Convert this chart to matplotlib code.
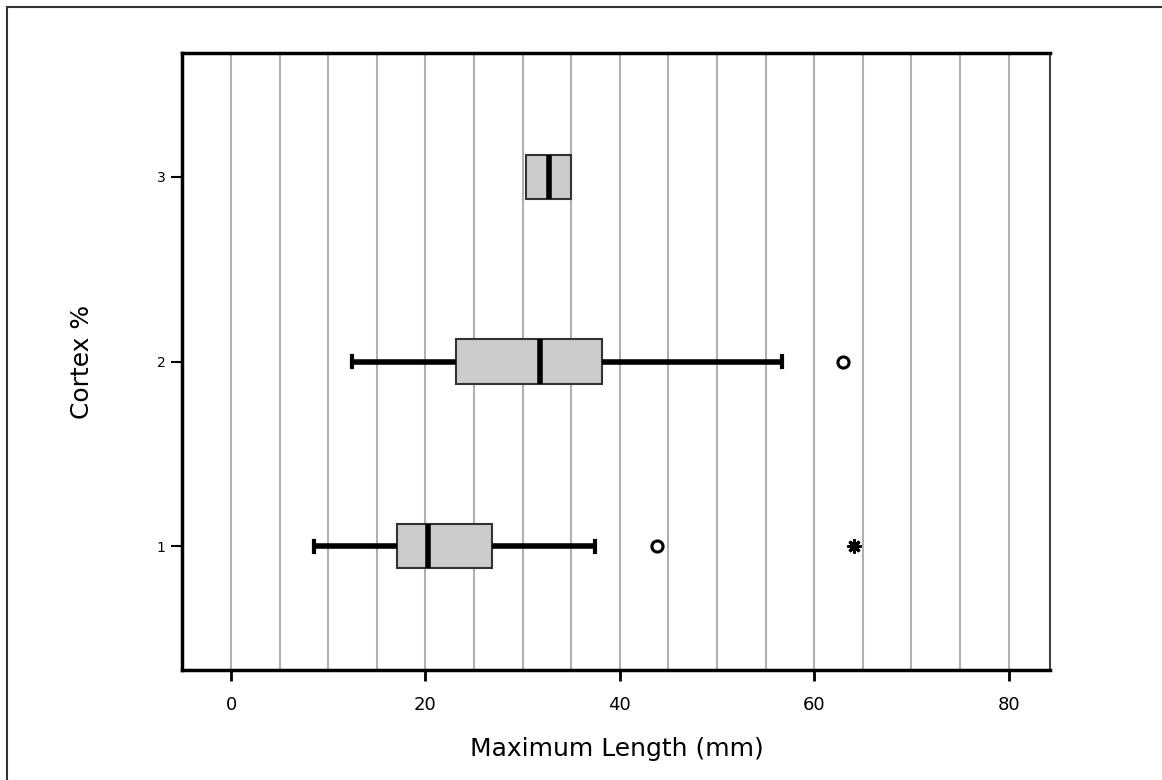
import matplotlib.pyplot as plt
from matplotlib.lines import Line2D

# values
groups = [1, 2, 3]
whisker_low = [8.5, 12.4, 30.3]
q1 = [17.1, 23.1, 30.3]
median = [20.3, 31.8, 32.7]
q3 = [26.8, 38.2, 35.0]
whisker_high = [37.4, 56.7, 35.0]
outliers = [[43.8], [63.0], []]
extremes = [[64.1], [], []]

x_ticks = [0, 20, 40, 60, 80]

stats = []
for i in range(len(groups)):
    stats.append({
        "whislo": whisker_low[i], "q1": q1[i], "med": median[i],
        "q3": q3[i], "whishi": whisker_high[i], "fliers": outliers[i],
    })

fig = plt.figure(figsize=(11.62, 7.8), dpi=100)
ax = fig.add_axes([0.157, 0.141, 0.747, 0.791])

bp = ax.bxp(stats, positions=groups, vert=False, widths=0.24, patch_artist=True,
            showcaps=True, capwidths=0.06,
            boxprops=dict(facecolor="#cccccc", edgecolor="#333333", linewidth=1.5),
            medianprops=dict(color="black", linewidth=4, solid_capstyle="butt"),
            whiskerprops=dict(color="black", linewidth=4, solid_capstyle="butt"),
            capprops=dict(color="black", linewidth=3),
            flierprops=dict(marker="o", markersize=8, markerfacecolor="white",
                            markeredgecolor="black", markeredgewidth=2.2))

# no caps where the whisker ends on the box itself
for i in range(len(groups)):
    if whisker_low[i] == q1[i]:
        bp["caps"][2 * i].set_visible(False)
    if whisker_high[i] == q3[i]:
        bp["caps"][2 * i + 1].set_visible(False)

for i, g in enumerate(groups):
    for v in extremes[i]:
        ax.plot(v, g, marker=(8, 2, 0), color="black", markersize=10,
                markeredgewidth=2.2, linestyle="none")

ax.set_xlim(-5, 84.3)
ax.set_ylim(0.33, 3.67)
ax.set_xticks(x_ticks)
ax.set_xticks(range(0, 85, 5), minor=True)
ax.set_yticks(groups)
ax.grid(True, axis="x", which="both", color="#b0b0b0", linewidth=1.5)
ax.set_axisbelow(True)
ax.tick_params(axis="x", which="major", length=8, width=2, labelsize=13, pad=11)
ax.tick_params(axis="x", which="minor", length=0)
ax.tick_params(axis="y", length=8, width=1.5, labelsize=10, pad=4)

for side in ["left", "top", "bottom"]:
    ax.spines[side].set_linewidth(2.5)
ax.spines["right"].set_linewidth(1.5)
ax.spines["right"].set_color("#444444")

ax.set_xlabel("Maximum Length (mm)", fontsize=18, labelpad=16)
ax.set_ylabel("Cortex %", fontsize=18, labelpad=45)

# outer frame of the figure (left and top edges)
fig.add_artist(Line2D([7 / 1162, 7 / 1162], [0, 1 - 7 / 780],
                      transform=fig.transFigure, color="#333333", linewidth=1.5))
fig.add_artist(Line2D([7 / 1162, 1], [1 - 7 / 780, 1 - 7 / 780],
                      transform=fig.transFigure, color="#333333", linewidth=1.5))

fig.savefig("out.png", dpi=100)
